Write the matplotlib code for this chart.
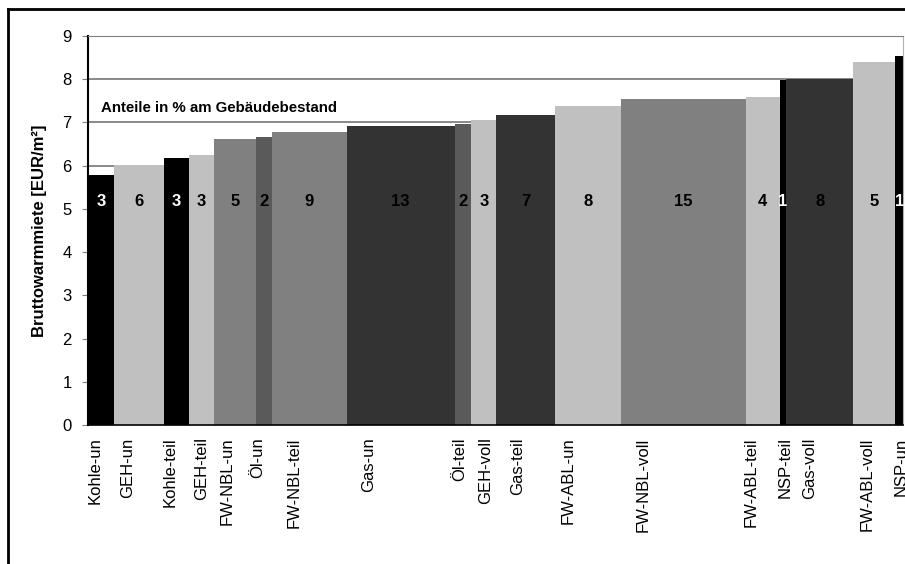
import numpy as np
import matplotlib
matplotlib.use("Agg")
from matplotlib import pyplot as plt
from matplotlib.lines import Line2D

plt.rcParams['font.family'] = ['Liberation Sans', 'DejaVu Sans']

# categories, shares of building stock (%) and warm rent (EUR/m2)
names = ['Kohle-un', 'GEH-un', 'Kohle-teil', 'GEH-teil', 'FW-NBL-un', 'Öl-un',
         'FW-NBL-teil', 'Gas-un', 'Öl-teil', 'GEH-voll', 'Gas-teil', 'FW-ABL-un',
         'FW-NBL-voll', 'FW-ABL-teil', 'NSP-teil', 'Gas-voll', 'FW-ABL-voll', 'NSP-un']
shares = [3.1, 6.0, 3.0, 3.0, 5.0, 1.9, 9.0, 13.0, 2.0, 3.0, 7.0, 8.0,
          14.9, 4.1, 0.8, 8.0, 5.0, 1.1]
rent = [5.79, 6.02, 6.18, 6.25, 6.62, 6.67, 6.77, 6.92, 6.97, 7.06, 7.18, 7.38,
        7.55, 7.59, 7.99, 8.01, 8.40, 8.54]
# where the category labels sit on the x axis (%)
label_pos = [0.8, 4.7, 9.8, 13.6, 16.65, 20.4, 24.75, 33.7, 44.55, 47.7, 51.5, 57.65,
             66.65, 79.6, 83.6, 86.65, 93.55, 97.55]

fuel_colors = {'Kohle': '#000000', 'GEH': '#c0c0c0', 'FW-NBL': '#808080',
               'Öl': '#5a5a5a', 'Gas': '#333333', 'FW-ABL': '#c0c0c0', 'NSP': '#000000'}

fig = plt.figure(figsize=(9.05, 5.64), dpi=100)
ax = fig.add_axes([88.3/905, 139/564, (903 - 88.3)/905, 389/564])

lefts = np.concatenate([[0], np.cumsum(shares)[:-1]])
for name, left, w, h in zip(names, lefts, shares, rent):
    fuel = name.rsplit('-', 1)[0]
    col = fuel_colors[fuel]
    ax.bar(left, h, width=w, align='edge', color=col, linewidth=0, zorder=2,
           clip_on=False)
    txt_col = 'white' if col == '#000000' else 'black'
    ax.text(left + w/2, 5.18, f"{round(w):.0f}", ha='center', va='center',
            fontsize=12, fontweight='bold', color=txt_col, zorder=3)

ax.set_xlim(0, 97.8)
ax.set_ylim(0, 9)
ax.set_yticks(range(0, 10))
ax.yaxis.grid(True, color='#808080', lw=1.3, zorder=1)
ax.set_axisbelow(True)

ax.set_xticks(label_pos)
ax.set_xticklabels(names, rotation=90, fontsize=12, va='top')
ax.tick_params(axis='x', length=0, pad=9)
ax.tick_params(axis='y', labelsize=12, length=4, color='#808080', pad=8)

ax.spines['left'].set_linewidth(1.5)
ax.spines['bottom'].set_linewidth(1.2)
ax.spines['bottom'].set_zorder(4)
ax.spines['top'].set_color('#808080')
ax.spines['right'].set_color('#b0b0b0')

ax.set_ylabel('Bruttowarmmiete [EUR/m²]', fontsize=12, fontweight='bold', labelpad=11)
ax.text(1.5, 7.34, 'Anteile in % am Gebäudebestand', fontsize=10.8,
        fontweight='bold', va='center', ha='left')

# outer frame (clipped at right and bottom like the source)
fig.add_artist(Line2D([8/905, 8/905], [0, 1 - 8.5/564], color='black', lw=2))
fig.add_artist(Line2D([8/905, 1], [1 - 8.5/564, 1 - 8.5/564], color='black', lw=2))

fig.savefig('out.png', dpi=100)
